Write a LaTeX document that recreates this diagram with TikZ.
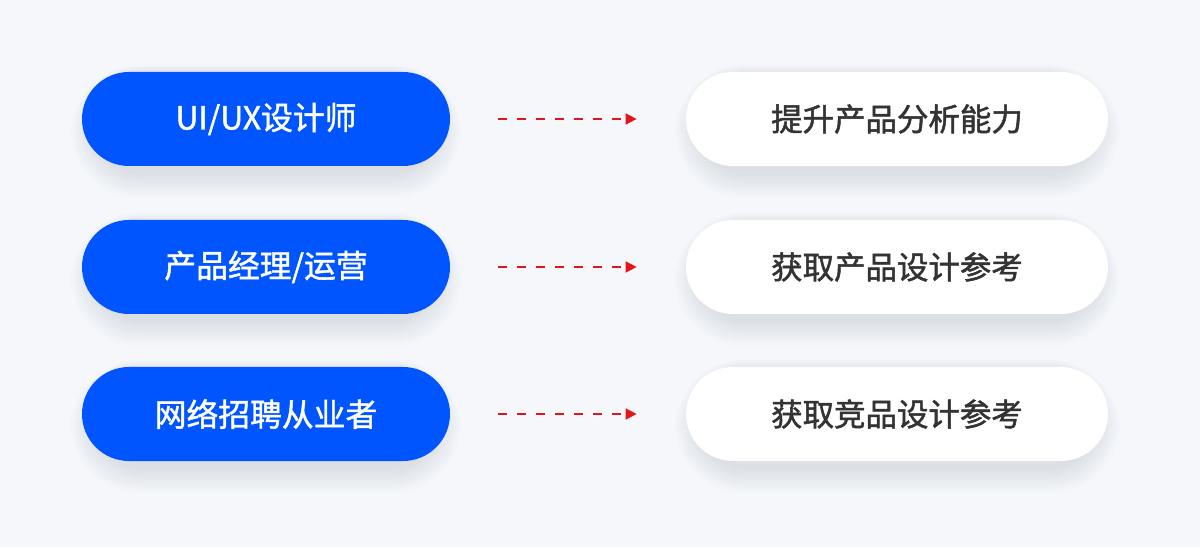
\documentclass[tikz,border=0pt]{standalone}
\usepackage{fontspec}
\setmainfont{Noto Sans CJK SC}[FakeBold=1.4]
\newfontfamily\medfont{Noto Sans CJK SC}[FakeBold=1.6]
\usetikzlibrary{arrows.meta,backgrounds}
\definecolor{bgcol}{HTML}{F5F7FB}
\definecolor{roleblue}{HTML}{0055FE}
\definecolor{goaltext}{HTML}{333333}
\definecolor{arrowred}{HTML}{E0161B}
\definecolor{shadowcol}{HTML}{4A5C8C}
\begin{document}
\begin{tikzpicture}[
    role/.style={fill=roleblue, text=white, minimum width=7.36cm, minimum height=1.88cm,
        rounded corners=0.94cm, font=\fontsize{18.1}{21}\selectfont},
    goal/.style={fill=white, text=goaltext, minimum width=8.44cm, minimum height=1.88cm,
        rounded corners=0.94cm, font=\medfont\fontsize{17.9}{21}\selectfont},
    link/.style={draw=arrowred, line width=0.9pt, dash pattern=on 0.18cm off 0.2cm,
        -{Triangle[length=0.22cm,width=0.22cm]}, shorten <=0.96cm, shorten >=0.98cm}
]
    \useasboundingbox (0,0) rectangle (24,10.94);

    \node[role] (ux) at (5.32,8.56) {UI/UX设计师};
    \node[role] (pm) at (5.32,5.6) {产品经理/运营};
    \node[role] (hr) at (5.32,2.66) {网络招聘从业者};

    \node[goal] (ana) at (17.94,8.56) {提升产品分析能力};
    \node[goal] (ref) at (17.94,5.6) {获取产品设计参考};
    \node[goal] (comp) at (17.94,2.66) {获取竞品设计参考};

    \draw[link] (ux) -- (ana);
    \draw[link] (pm) -- (ref);
    \draw[link] (hr) -- (comp);

    % soft shadows under the pills
    \begin{scope}[on background layer]
        \fill[bgcol] (0,0) rectangle (24,10.94);
        \foreach \n in {ux,pm,hr,ana,ref,comp}
            \foreach \k in {1,...,12}
                \fill[shadowcol, opacity=0.01, rounded corners=0.94cm+\k*0.04cm]
                    ([shift={(-\k*0.04+0.25,-\k*0.045-0.1)}]\n.south west) rectangle
                    ([shift={(\k*0.04-0.25,\k*0.02-0.1)}]\n.north east);
    \end{scope}
\end{tikzpicture}
\end{document}
